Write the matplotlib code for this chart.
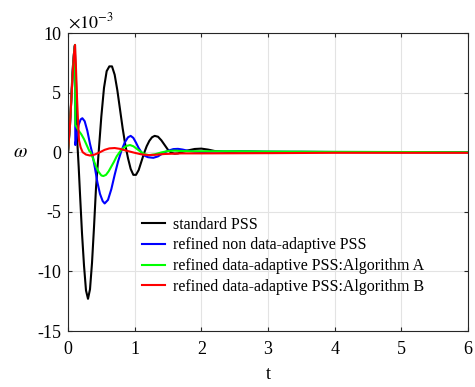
import numpy as np
import matplotlib
matplotlib.use("Agg")
import matplotlib.pyplot as plt

plt.rcParams['font.family'] = ['Liberation Serif', 'DejaVu Serif']
plt.rcParams['mathtext.fontset'] = 'stix'

# Datos (omega en unidades de 1e-3)
t_std = [0, 0.04, 0.07, 0.1, 0.12, 0.14, 0.16, 0.18, 0.21, 0.24, 0.27, 0.3, 0.33, 0.36, 0.39,
         0.42, 0.46, 0.5, 0.54, 0.58, 0.62, 0.66, 0.7, 0.74, 0.78, 0.82, 0.86, 0.9, 0.94,
         0.98, 1.02, 1.06, 1.1, 1.14, 1.18, 1.22, 1.26, 1.3, 1.35, 1.4, 1.45, 1.5, 1.55,
         1.6, 1.65, 1.7, 1.8, 1.9, 2.0, 2.1, 2.2, 2.4, 2.6, 2.8, 3.0, 3.5, 4.0, 5.0, 6.0]
w_std = [0, 3.5, 7.0, 8.9, 6.0, 0.8, -1.2, -3.5, -6.8, -9.5, -11.6, -12.3, -11.5, -9.3, -6.3,
         -3.0, 0.0, 3.0, 5.4, 6.8, 7.2, 7.2, 6.5, 5.2, 3.6, 2.0, 0.6, -0.5, -1.4,
         -1.9, -1.9, -1.5, -0.8, -0.1, 0.5, 0.95, 1.25, 1.37, 1.3, 1.0, 0.6, 0.2, -0.05,
         -0.12, -0.1, 0.0, 0.15, 0.27, 0.3, 0.22, 0.1, 0.02, 0.05, 0.03, 0.0, 0.02, 0.01, 0.0, 0.0]

t_nad = [0, 0.03, 0.065, 0.09, 0.105, 0.11, 0.13, 0.16, 0.19, 0.215, 0.25, 0.29, 0.33, 0.36, 0.4,
         0.44, 0.48, 0.52, 0.55, 0.6, 0.65, 0.7, 0.75, 0.8, 0.85, 0.9, 0.94, 0.98, 1.02,
         1.06, 1.1, 1.15, 1.2, 1.28, 1.35, 1.42, 1.5, 1.58, 1.65, 1.72, 1.8, 1.9, 2.0,
         2.2, 2.5, 3.0, 4.0, 5.0, 6.0]
w_nad = [0, 2.3, 6.0, 8.3, 9.0, 0.6, 1.3, 2.3, 2.75, 2.85, 2.6, 1.8, 0.7, 0.0, -1.2,
         -2.5, -3.5, -4.1, -4.3, -4.0, -3.1, -1.9, -0.8, 0.1, 0.8, 1.25, 1.37, 1.2, 0.8,
         0.35, 0.0, -0.3, -0.42, -0.47, -0.35, -0.1, 0.12, 0.26, 0.28, 0.22, 0.12, 0.05, 0.02,
         0.05, 0.08, 0.05, 0.02, 0.01, 0.0]

t_alg_a = [0, 0.03, 0.065, 0.09, 0.105, 0.11, 0.13, 0.16, 0.2, 0.24, 0.28, 0.32, 0.34, 0.38, 0.42,
           0.46, 0.5, 0.53, 0.57, 0.61, 0.65, 0.69, 0.73, 0.78, 0.83, 0.88, 0.93, 0.98,
           1.04, 1.1, 1.16, 1.22, 1.3, 1.4, 1.5, 1.6, 1.7, 1.85, 2.0, 2.5, 3.0, 4.0, 6.0]
w_alg_a = [0, 2.3, 6.0, 8.3, 9.0, 2.3, 2.1, 1.8, 1.5, 1.1, 0.6, 0.1, 0.0, -0.6, -1.2,
           -1.65, -1.95, -2.0, -1.9, -1.6, -1.2, -0.8, -0.35, 0.05, 0.35, 0.53, 0.6, 0.5,
           0.25, 0.0, -0.18, -0.25, -0.18, -0.02, 0.1, 0.13, 0.1, 0.08, 0.08, 0.08, 0.06, 0.03, 0.0]

t_alg_b = [0, 0.03, 0.065, 0.09, 0.105, 0.12, 0.135, 0.15, 0.165, 0.19, 0.22, 0.27, 0.33,
           0.4, 0.48, 0.55, 0.62, 0.7, 0.78, 0.88, 1.0, 1.1, 1.2, 1.3, 1.45, 1.7, 2.0,
           3.0, 4.0, 6.0]
w_alg_b = [0, 2.3, 6.0, 8.3, 9.0, 7.0, 4.6, 2.7, 1.0, 0.4, 0.0, -0.2, -0.28,
           -0.2, 0.0, 0.2, 0.32, 0.35, 0.28, 0.12, -0.05, -0.18, -0.24, -0.22, -0.15, -0.1, -0.1,
           -0.08, -0.05, -0.05]

etiquetas = ['standard PSS', 'refined non data-adaptive PSS',
             'refined data-adaptive PSS:Algorithm A', 'refined data-adaptive PSS:Algorithm B']

fig = plt.figure(figsize=(4.75, 3.87), dpi=100)
ax = fig.add_axes([68 / 475, 56 / 387, 400 / 475, 298 / 387])

ax.plot(t_std, w_std, color='k', lw=1.5, label=etiquetas[0])
ax.plot(t_nad, w_nad, color=(0, 0, 1), lw=1.5, label=etiquetas[1])
ax.plot(t_alg_a, w_alg_a, color=(0, 1, 0), lw=1.5, label=etiquetas[2])
ax.plot(t_alg_b, w_alg_b, color=(1, 0, 0), lw=1.5, label=etiquetas[3])

ax.set_xlim(0, 6)
ax.set_ylim(-15, 10)
ax.set_xticks(range(0, 7))
ax.set_yticks([-15, -10, -5, 0, 5, 10])
ax.set_yticklabels(['-15', '-10', '-5', '0', '5', '10'])
ax.grid(True, color='#e3e3e3', lw=0.8)
ax.set_axisbelow(True)
ax.tick_params(direction='in', top=True, right=True, labelsize=13,
               color='#262626', length=3, pad=5)
ax.tick_params(axis='x', pad=7)
for s in ax.spines.values():
    s.set_color('#262626')
    s.set_linewidth(0.8)

ax.set_xlabel('t', fontsize=13, labelpad=6)
ax.set_ylabel(r'$\omega$', fontsize=14, rotation=0, va='center')
ax.yaxis.set_label_coords(-0.12, 0.60)
ax.text(0.0, 1.003, r'$\times10^{-3}$', transform=ax.transAxes, fontsize=13,
        ha='left', va='bottom')

ax.legend(loc='upper left', bbox_to_anchor=(0.17, 0.405), frameon=False,
          fontsize=11.5, handlelength=1.4, handletextpad=0.5, labelspacing=0.3,
          borderaxespad=0)

fig.savefig('out.png', dpi=100)
